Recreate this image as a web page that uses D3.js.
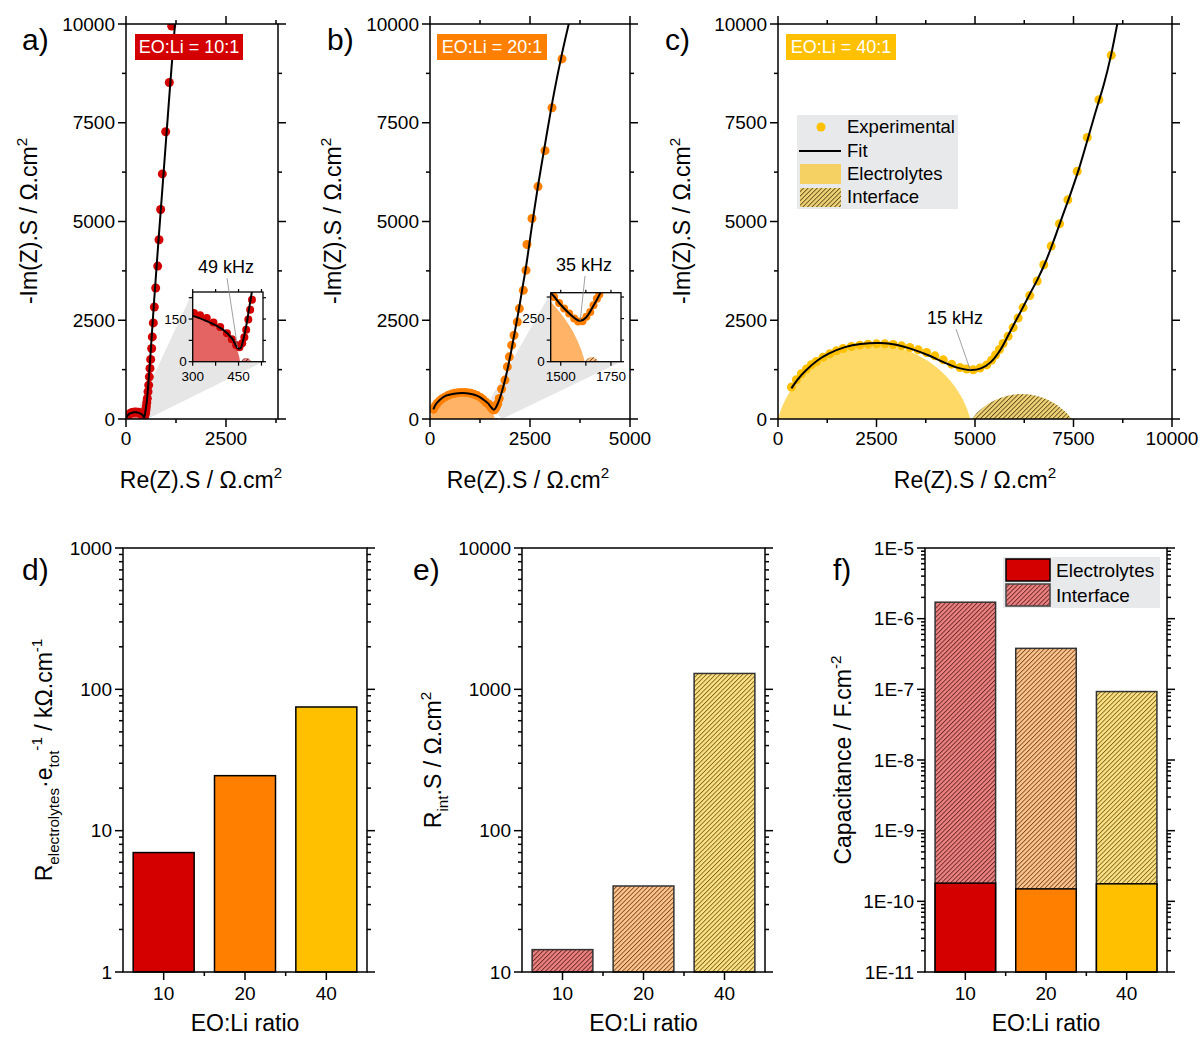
<!DOCTYPE html>
<html><head><meta charset="utf-8">
<script src="https://cdn.jsdelivr.net/npm/d3@7"></script>
<style>body{margin:0;background:#fff} text{font-family:Arial,"Liberation Sans",sans-serif;fill:#000}</style>
</head><body><script>
// ---------------- DATA ----------------
// Panel a (EO:Li = 10:1) Nyquist, [Re, -Im] in Ohm.cm2
const expA = [[15,30],[40,80],[70,115],[110,145],[150,162],[190,172],[230,176],[270,174],[304,171],[324,163],[346,154],[368,138],[390,122],[412,100],[428,79],[442,59],[453,51],[462,65],[469,86],[475,112],[482,148],[488,183],[494,218],[500,260],[510,330],[520,420],[533,523],[550,690],[567,859],[583,1068],[600,1280],[617,1508],[642,1785],[658,2078],[683,2432],[708,2836],[742,3316],[792,3871],[825,4537],[867,5303],[908,6204],[992,7273],[1083,8518],[1142,9950]];
const fitA = [[15,40],[50,100],[100,140],[150,160],[200,170],[250,170],[300,161],[350,141],[400,112],[430,80],[447,48],[456,47],[465,75],[475,125],[485,190],[495,255],[510,360],[525,490],[550,780],[600,1450],[700,2950],[800,4350],[900,5700],[1000,7050],[1100,8400],[1225,10000]];
const elecA = [[0,0],[8,40],[25,75],[55,110],[100,143],[150,163],[200,174],[230,177],[270,174],[300,166],[340,150],[380,125],[410,97],[430,70],[445,42],[452,18],[455,0]];
const intA = [[458,0],[464,9],[475,13],[486,9],[492,0]];
// Panel b (EO:Li = 20:1)
const expB = [[84,245],[130,330],[180,400],[240,460],[300,510],[380,560],[460,600],[540,630],[620,652],[700,667],[780,674],[860,674],[940,667],[1020,652],[1100,627],[1180,592],[1260,547],[1330,492],[1400,425],[1467,375],[1492,340],[1517,308],[1542,279],[1567,250],[1587,233],[1608,235],[1628,260],[1647,288],[1663,327],[1680,365],[1692,390],[1730,520],[1790,760],[1875,985],[1933,1321],[1983,1573],[2042,1869],[2100,2121],[2183,2457],[2233,2795],[2333,3258],[2400,3763],[2425,4419],[2550,5076],[2700,5884],[2875,6793],[3050,7879],[3300,9116]];
const fitB = [[84,245],[150,380],[250,490],[400,590],[600,640],[810,657],[1000,640],[1200,580],[1350,480],[1453,395],[1500,330],[1540,282],[1570,252],[1597,237],[1625,255],[1660,318],[1700,405],[1760,570],[1830,810],[1900,1090],[2000,1560],[2100,2100],[2200,2650],[2300,3250],[2400,3850],[2550,4900],[2700,5900],[2900,7100],[3100,8250],[3300,9250],[3480,10050]];
const elecB = [[0,0],[20,75],[60,176],[120,281],[200,383],[300,475],[450,568],[600,623],[810,650],[1000,628],[1150,577],[1300,490],[1400,404],[1453,345],[1500,281],[1542,211],[1575,142],[1603,65],[1620,0]];
const intB = [[1620,0],[1632,16],[1652,27],[1672,22],[1688,0]];
// Panel c (EO:Li = 40:1)
const expC = [[340,808],[466,993],[593,1145],[720,1263],[847,1372],[975,1456],[1144,1566],[1314,1650],[1483,1726],[1653,1785],[1864,1835],[2076,1869],[2288,1894],[2500,1902],[2712,1902],[2924,1886],[3136,1852],[3347,1810],[3559,1751],[3771,1684],[3983,1599],[4195,1498],[4407,1389],[4619,1305],[4788,1263],[4958,1246],[5127,1288],[5297,1370],[5420,1490],[5520,1620],[5620,1760],[5713,1911],[5840,2096],[5967,2315],[6094,2558],[6221,2821],[6390,3124],[6578,3493],[6746,3906],[6933,4377],[7145,4942],[7356,5548],[7595,6271],[7849,7129],[8145,8081],[8459,9209]];
const fitC = [[340,775],[500,1000],[700,1220],[1000,1480],[1300,1660],[1700,1820],[2100,1900],[2600,1925],[3000,1880],[3400,1770],[3800,1620],[4200,1440],[4550,1300],[4900,1240],[5150,1280],[5400,1440],[5650,1760],[5900,2230],[6150,2700],[6400,3180],[6600,3560],[6800,4000],[7000,4520],[7200,5080],[7424,5700],[7650,6370],[7849,7045],[8050,7740],[8271,8472],[8450,9200],[8620,10050]];
const elecC = [[0,0],[100,297],[250,604],[500,962],[800,1265],[1200,1545],[1700,1759],[2440,1870],[3200,1753],[3700,1533],[4100,1248],[4400,938],[4650,568],[4800,246],[4880,0]];
const intC = [[4915,0],[5100,204],[5400,424],[5800,584],[6186,631],[6600,576],[7000,408],[7300,178],[7458,0]];
// tick labels
const nyqYTicks = [0,2500,5000,7500,10000];
const nyqXTicksA = [0,2500];
const nyqXTicksB = [0,2500,5000];
const nyqXTicksC = [0,2500,5000,7500,10000];
const insetATicksX = [300,450], insetATicksY = [0,150];
const insetBTicksX = [1500,1750], insetBTicksY = [0,250];
const freqLabels = ["49 kHz","35 kHz","15 kHz"];
const tagLabels = ["EO:Li = 10:1","EO:Li = 20:1","EO:Li = 40:1"];
// bar panels
const ratios = ["10","20","40"];
const rElectrolytes = [7.0, 24.5, 75];          // kOhm.cm-1
const rInterface = [14.4, 40.6, 1295];          // Ohm.cm2
const capElectrolytes = [1.81e-10, 1.5e-10, 1.77e-10];
const capInterface = [1.71e-6, 3.8e-7, 9.3e-8];
const dTicks = [1,10,100,1000];
const eTicks = [10,100,1000,10000];
const fTicks = [1e-11,1e-10,1e-9,1e-8,1e-7,1e-6,1e-5];
const fTickLabels = ["1E-11","1E-10","1E-9","1E-8","1E-7","1E-6","1E-5"];
const legendC = ["Experimental","Fit","Electrolytes","Interface"];
const legendF = ["Electrolytes","Interface"];

// ---------------- STYLE ----------------
const RED="#d40000", ORANGE="#ff8000", YELLOW="#ffc000";
const svg=d3.select("body").append("svg").attr("width",1203).attr("height",1037);
const defs=svg.append("defs");
function hatch(id, base, lc){
  const p=defs.append("pattern").attr("id",id).attr("patternUnits","userSpaceOnUse")
    .attr("width",3.2).attr("height",3.2).attr("patternTransform","rotate(45)");
  p.append("rect").attr("width",3.2).attr("height",3.2).attr("fill",base);
  p.append("line").attr("x1",0.5).attr("y1",0).attr("x2",0.5).attr("y2",3.2).attr("stroke",lc).attr("stroke-width",0.8);
}
hatch("hR","#ec8282","#5a1a1a");
hatch("hO","#ffc690","#6a3a10");
hatch("hY","#ffe385","#6a5510");
hatch("hYc","#f2d478","#4a3a10");

function ticks(g, vals, scale, side, pos, len, sw){
  g.append("g").selectAll("line").data(vals).join("line")
   .attr("x1", d=> (side==="b"||side==="t") ? scale(d) : pos)
   .attr("x2", d=> (side==="b"||side==="t") ? scale(d) : pos + (side==="l"?-len:len))
   .attr("y1", d=> (side==="l"||side==="r") ? scale(d) : pos)
   .attr("y2", d=> (side==="l"||side==="r") ? scale(d) : pos + (side==="t"?-len:len))
   .attr("stroke","#000").attr("stroke-width",sw||1.5);
}
function rich(sel, parts, size){
  let cur=0;
  parts.forEach(([s,t])=>{
    const target = t==="sub"? size*0.3 : t==="sup"? -size*0.42 : 0;
    sel.append("tspan").attr("dy", target-cur).attr("font-size", t==="n"? size : size*0.66).text(s);
    cur=target;
  });
}
const TF=23, TK=19;

function nyquist(c){
  const x=d3.scaleLinear().domain([0,c.xmax]).range([c.left,c.right]);
  const y=d3.scaleLinear().domain([0,10000]).range([419,24]);
  const cid="clip"+c.id;
  defs.append("clipPath").attr("id",cid).append("rect").attr("x",c.left).attr("y",24).attr("width",c.right-c.left).attr("height",395);
  const g=svg.append("g");
  const pg=g.append("g").attr("clip-path",`url(#${cid})`);
  const ln=d3.line().x(d=>x(d[0])).y(d=>y(d[1])).curve(d3.curveCatmullRom);
  let ix,iy;
  if(c.inset){
    const I=c.inset;
    ix=d3.scaleLinear().domain(I.xd).range([I.x,I.x+I.w]);
    iy=d3.scaleLinear().domain(I.yd).range([I.y+I.h,I.y]);
    pg.append("polygon").attr("points",[[x(I.xd[0]),y(I.yd[1])],[I.x,I.y],[I.x+I.w,I.y+I.h],[x(I.xd[1]),y(0)]].map(p=>p.join(",")).join(" "))
      .attr("fill","#e6e6e6");
  }
  pg.append("path").attr("d",ln(c.elec)+"Z").attr("fill",c.fill);
  pg.append("path").attr("d",ln(c.intf)+"Z").attr("fill",`url(#${c.hatch})`);
  pg.append("g").selectAll("circle").data(c.exp).join("circle")
    .attr("cx",d=>x(d[0])).attr("cy",d=>y(d[1])).attr("r",4.5).attr("fill",c.color);
  pg.append("path").attr("d",ln(c.fit)).attr("fill","none").attr("stroke","#000").attr("stroke-width",2);
  g.append("rect").attr("x",c.left).attr("y",24).attr("width",c.right-c.left).attr("height",395).attr("fill","none").attr("stroke","#000").attr("stroke-width",1.5);
  const xMaj=d3.range(0,c.xmax+1,2500), xMin=d3.range(1250,c.xmax+1,2500);
  const yMaj=nyqYTicks, yMin=d3.range(1250,10000,2500);
  ticks(g,xMaj,x,"b",419,8); ticks(g,xMin,x,"b",419,4);
  ticks(g,xMaj,x,"t",24,8); ticks(g,xMin,x,"t",24,4);
  ticks(g,yMaj,y,"l",c.left,8); ticks(g,yMin,y,"l",c.left,4);
  ticks(g,yMaj,y,"r",c.right,8); ticks(g,yMin,y,"r",c.right,4);
  g.append("g").selectAll("text").data(c.xTicks).join("text").attr("x",d=>x(d)).attr("y",445)
    .attr("text-anchor","middle").attr("font-size",TK).text(d=>d);
  g.append("g").selectAll("text").data(nyqYTicks).join("text").attr("x",c.left-11).attr("y",d=>y(d)).attr("dy","0.35em")
    .attr("text-anchor","end").attr("font-size",TK).text(d=>d);
  const xt=g.append("text").attr("x",c.xTitleX).attr("y",488).attr("text-anchor","middle").attr("font-size",TF);
  rich(xt,[["Re(Z).S / Ω.cm","n"],["2","sup"]],TF);
  const yt=g.append("text").attr("transform",`translate(${c.yTitleX},221) rotate(-90)`).attr("text-anchor","middle").attr("font-size",TF);
  rich(yt,[["-Im(Z).S / Ω.cm","n"],["2","sup"]],TF);
  g.append("text").attr("x",c.letterX).attr("y",50).attr("font-size",30).text(c.letter);
  g.append("rect").attr("x",c.tag[0]).attr("y",34).attr("width",c.tag[1]).attr("height",26).attr("fill",c.color);
  g.append("text").attr("x",c.tag[0]+c.tag[1]/2).attr("y",47).attr("dy","0.35em").attr("text-anchor","middle")
    .attr("font-size",18).style("fill","#fff").text(c.tagText);
  if(c.inset){
    const I=c.inset;
    const iid="iclip"+c.id;
    defs.append("clipPath").attr("id",iid).append("rect").attr("x",I.x).attr("y",I.y).attr("width",I.w).attr("height",I.h);
    g.append("rect").attr("x",I.x).attr("y",I.y).attr("width",I.w).attr("height",I.h).attr("fill","#fff");
    const ig=g.append("g").attr("clip-path",`url(#${iid})`);
    const il=d3.line().x(d=>ix(d[0])).y(d=>iy(d[1])).curve(d3.curveCatmullRom);
    ig.append("path").attr("d",il(c.elec)+"Z").attr("fill",c.fill);
    ig.append("path").attr("d",il(c.intf)+"Z").attr("fill",`url(#${c.hatch})`);
    ig.append("g").selectAll("circle").data(c.exp).join("circle")
      .attr("cx",d=>ix(d[0])).attr("cy",d=>iy(d[1])).attr("r",4).attr("fill",c.color);
    ig.append("path").attr("d",il(c.fit)).attr("fill","none").attr("stroke","#000").attr("stroke-width",2);
    g.append("rect").attr("x",I.x).attr("y",I.y).attr("width",I.w).attr("height",I.h).attr("fill","none").attr("stroke","#000").attr("stroke-width",1.3);
    ticks(g,I.xt,ix,"b",I.y+I.h,4,1.2); ticks(g,I.xt,ix,"t",I.y,3,1.2);
    ticks(g,I.yt,iy,"l",I.x,4,1.2); ticks(g,I.yt,iy,"r",I.x+I.w,3,1.2);
    g.append("g").selectAll("text").data(I.xl).join("text").attr("x",d=>ix(d)).attr("y",I.y+I.h+19)
      .attr("text-anchor","middle").attr("font-size",13.5).text(d=>d);
    g.append("g").selectAll("text").data(I.yl).join("text").attr("x",I.x-6).attr("y",d=>iy(d)).attr("dy","0.35em")
      .attr("text-anchor","end").attr("font-size",13.5).text(d=>d);
  }
  const tx=c.freq.tx, ty=c.freq.ty;
  const end = c.inset ? [ix(c.freq.pt[0]),iy(c.freq.pt[1])] : [x(c.freq.pt[0]),y(c.freq.pt[1])];
  g.append("line").attr("x1",tx+1).attr("y1",ty+5).attr("x2",end[0]).attr("y2",end[1]).attr("stroke","#888").attr("stroke-width",0.8);
  g.append("text").attr("x",tx).attr("y",ty).attr("text-anchor","middle").attr("font-size",18).text(c.freq.text);
  return {g,x,y};
}

nyquist({id:"a",left:126,right:278,xmax:3800,exp:expA,fit:fitA,elec:elecA,intf:intA,color:RED,fill:"#e46464",hatch:"hR",
  xTicks:nyqXTicksA,xTitleX:201,yTitleX:37,letter:"a)",letterX:22,tag:[135,108],tagText:tagLabels[0],
  inset:{x:192.7,y:292,w:70.3,h:69.7,xd:[300,530],yd:[0,245],xt:[300,375,450,525],yt:[0,75,150,225],xl:insetATicksX,yl:insetATicksY},
  freq:{tx:226,ty:273,text:freqLabels[0],pt:[447,48]}});
nyquist({id:"b",left:430,right:630,xmax:5000,exp:expB,fit:fitB,elec:elecB,intf:intB,color:ORANGE,fill:"#ffb366",hatch:"hO",
  xTicks:nyqXTicksB,xTitleX:528,yTitleX:341,letter:"b)",letterX:327,tag:[437,110],tagText:tagLabels[1],
  inset:{x:550.7,y:292.7,w:70.3,h:69,xd:[1450,1800],yd:[0,400],xt:[1500,1625,1750],yt:[0,125,250,375],xl:insetBTicksX,yl:insetBTicksY},
  freq:{tx:584,ty:271,text:freqLabels[1],pt:[1597,237]}});
nyquist({id:"c",left:778,right:1172,xmax:10000,exp:expC,fit:fitC,elec:elecC,intf:intC,color:YELLOW,fill:"#ffd966",hatch:"hYc",
  xTicks:nyqXTicksC,xTitleX:975,yTitleX:690,letter:"c)",letterX:665,tag:[786,110],tagText:tagLabels[2],
  freq:{tx:955,ty:324,text:freqLabels[2],pt:[4880,1242]}});

// legend c
(function(){
  const g=svg.append("g");
  g.append("rect").attr("x",797).attr("y",115).attr("width",161).attr("height",94).attr("fill","#e8e9eb");
  g.append("circle").attr("cx",821).attr("cy",127).attr("r",4.5).attr("fill",YELLOW);
  g.append("line").attr("x1",799).attr("x2",841).attr("y1",151).attr("y2",151).attr("stroke","#000").attr("stroke-width",2);
  g.append("rect").attr("x",800).attr("y",164).attr("width",41).attr("height",20).attr("fill","#f5d063");
  g.append("rect").attr("x",800).attr("y",188).attr("width",41).attr("height",19).attr("fill","url(#hYc)");
  g.selectAll("text.l").data(legendC).join("text").attr("x",847).attr("y",(d,i)=>[127,151,174,197][i]).attr("dy","0.35em")
    .attr("font-size",18.5).text(d=>d);
})();

// ---------------- BAR PANELS ----------------
function barPanel(c){
  const g=svg.append("g");
  const x=d3.scaleBand().domain(ratios).range([c.left,c.right]).paddingInner(0.25).paddingOuter(0.125);
  const y=d3.scaleLog().domain(c.yd).range([972,548]);
  c.draw(g,x,y);
  g.append("rect").attr("x",c.left).attr("y",548).attr("width",c.right-c.left).attr("height",424).attr("fill","none").attr("stroke","#000").attr("stroke-width",1.5);
  const majors=c.ticks;
  const minors=[];
  for(let i=0;i<majors.length-1;i++) for(let k=2;k<10;k++) minors.push(majors[i]*k);
  ticks(g,majors,y,"l",c.left,8); ticks(g,minors,y,"l",c.left,4);
  ticks(g,majors,y,"r",c.right,8); ticks(g,minors,y,"r",c.right,4);
  const cx=d=>x(d)+x.bandwidth()/2;
  ticks(g,ratios,cx,"b",972,8);
  const step=x.step();
  ticks(g,[1,2],i=>c.left+step*i,"b",972,4);
  g.append("g").selectAll("text").data(ratios).join("text").attr("x",cx).attr("y",1000).attr("text-anchor","middle").attr("font-size",TK).text(d=>d);
  g.append("g").selectAll("text").data(majors).join("text").attr("x",c.left-11).attr("y",d=>y(d)).attr("dy","0.35em")
    .attr("text-anchor","end").attr("font-size",TK).text((d,i)=>c.labels[i]);
  g.append("text").attr("x",(c.left+c.right)/2).attr("y",1031).attr("text-anchor","middle").attr("font-size",TF).text("EO:Li ratio");
  const yt=g.append("text").attr("transform",`translate(${c.yTitleX},760) rotate(-90)`).attr("text-anchor","middle").attr("font-size",TF);
  rich(yt,c.title,TF);
  g.append("text").attr("x",c.letterX).attr("y",580).attr("font-size",30).text(c.letter);
  return g;
}
const solid=[RED,ORANGE,YELLOW], hatchIds=["hR","hO","hY"];

barPanel({left:123,right:367,yd:[1,1000],ticks:dTicks,labels:dTicks.map(String),yTitleX:52,letter:"d)",letterX:22,
  title:[["R","n"],["electrolytes","sub"],["·e","n"],["tot","sub"],["-1","sup"],[" / kΩ.cm","n"],["-1","sup"]],
  draw:(g,x,y)=>{
    g.selectAll("rect.b").data(ratios).join("rect").attr("x",d=>x(d)).attr("width",x.bandwidth())
      .attr("y",(d,i)=>y(rElectrolytes[i])).attr("height",(d,i)=>972-y(rElectrolytes[i]))
      .attr("fill",(d,i)=>solid[i]).attr("stroke","#000").attr("stroke-width",1.5);
  }});
barPanel({left:522,right:765,yd:[10,10000],ticks:eTicks,labels:eTicks.map(String),yTitleX:441,letter:"e)",letterX:413,
  title:[["R","n"],["int","sub"],[".S / Ω.cm","n"],["2","sup"]],
  draw:(g,x,y)=>{
    g.selectAll("rect.b").data(ratios).join("rect").attr("x",d=>x(d)).attr("width",x.bandwidth())
      .attr("y",(d,i)=>y(rInterface[i])).attr("height",(d,i)=>972-y(rInterface[i]))
      .attr("fill",(d,i)=>`url(#${hatchIds[i]})`).attr("stroke","#333").attr("stroke-width",1.5);
  }});
barPanel({left:925,right:1167,yd:[1e-11,1e-5],ticks:fTicks,labels:fTickLabels,yTitleX:851,letter:"f)",letterX:833,
  title:[["Capacitance / F.cm","n"],["-2","sup"]],
  draw:(g,x,y)=>{
    g.append("g").selectAll("rect").data(ratios).join("rect").attr("x",d=>x(d)).attr("width",x.bandwidth())
      .attr("y",(d,i)=>y(capInterface[i])).attr("height",(d,i)=>972-y(capInterface[i]))
      .attr("fill",(d,i)=>`url(#${hatchIds[i]})`).attr("stroke","#333").attr("stroke-width",1.5);
    g.append("g").selectAll("rect").data(ratios).join("rect").attr("x",d=>x(d)).attr("width",x.bandwidth())
      .attr("y",(d,i)=>y(capElectrolytes[i])).attr("height",(d,i)=>972-y(capElectrolytes[i]))
      .attr("fill",(d,i)=>solid[i]).attr("stroke","#000").attr("stroke-width",1.5);
  }});
// legend f
(function(){
  const g=svg.append("g");
  g.append("rect").attr("x",1003).attr("y",557).attr("width",157).attr("height",51).attr("fill","#e8e9eb");
  g.append("rect").attr("x",1006).attr("y",559).attr("width",44).attr("height",22).attr("fill",RED).attr("stroke","#000").attr("stroke-width",1.5);
  g.append("rect").attr("x",1006).attr("y",584).attr("width",44).attr("height",22).attr("fill","url(#hR)").attr("stroke","#444").attr("stroke-width",1.5);
  g.selectAll("text.l").data(legendF).join("text").attr("x",1056).attr("y",(d,i)=>[570,595][i]).attr("dy","0.35em")
    .attr("font-size",19).text(d=>d);
})();
</script></body></html>
